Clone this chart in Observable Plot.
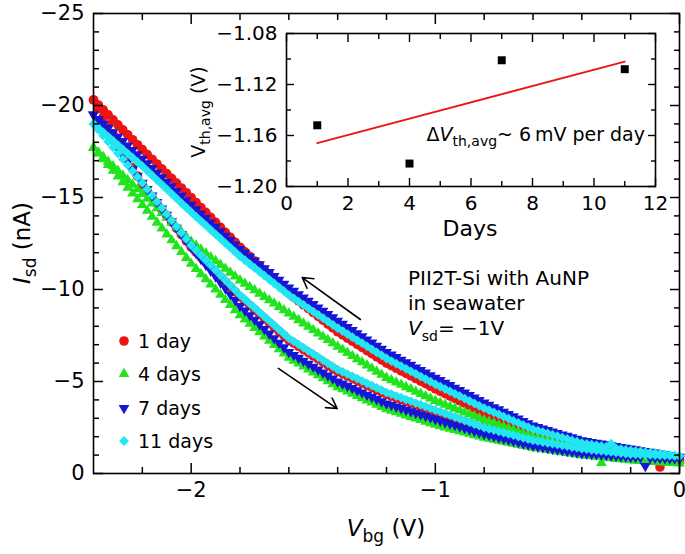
<!DOCTYPE html>
<html><head><meta charset="utf-8">
<script src="https://cdn.jsdelivr.net/npm/d3@7"></script>
<script src="https://cdn.jsdelivr.net/npm/@observablehq/plot@0.6"></script>
<style>
body{margin:0;background:#fff}
#wrap{position:relative;width:685px;height:554px}
#inset{position:absolute;left:180px;top:20px}
</style></head><body><div id="wrap"></div>
<script>
// ---- Data: gate voltage sweep (V) ----
const Vbg = [
-2.40,-2.38,-2.36,-2.34,-2.32,-2.30,-2.28,-2.26,-2.24,-2.22,
-2.20,-2.18,-2.16,-2.14,-2.12,-2.10,-2.08,-2.06,-2.04,-2.02,
-2.00,-1.98,-1.96,-1.94,-1.92,-1.90,-1.88,-1.86,-1.84,-1.82,
-1.80,-1.78,-1.76,-1.74,-1.72,-1.70,-1.68,-1.66,-1.64,-1.62,
-1.60,-1.58,-1.56,-1.54,-1.52,-1.50,-1.48,-1.46,-1.44,-1.42,
-1.40,-1.38,-1.36,-1.34,-1.32,-1.30,-1.28,-1.26,-1.24,-1.22,
-1.20,-1.18,-1.16,-1.14,-1.12,-1.10,-1.08,-1.06,-1.04,-1.02,
-1.00,-0.98,-0.96,-0.94,-0.92,-0.90,-0.88,-0.86,-0.84,-0.82,
-0.80,-0.78,-0.76,-0.74,-0.72,-0.70,-0.68,-0.66,-0.64,-0.62,
-0.60,-0.58,-0.56,-0.54,-0.52,-0.50,-0.48,-0.46,-0.44,-0.42,
-0.40,-0.38,-0.36,-0.34,-0.32,-0.30,-0.28,-0.26,-0.24,-0.22,
-0.20,-0.18,-0.16,-0.14,-0.12,-0.10,-0.08,-0.06,-0.04,-0.02,
0];

// Isd (nA): forward sweep (upper branch) and reverse sweep (lower branch)
const day1Fwd = [
-20.3,-20.03,-19.76,-19.49,-19.22,-18.95,-18.68,-18.41,-18.14,-17.87,
-17.6,-17.34,-17.08,-16.82,-16.56,-16.3,-16.04,-15.78,-15.52,-15.26,
-15.0,-14.73,-14.46,-14.19,-13.92,-13.65,-13.38,-13.11,-12.84,-12.57,
-12.3,-12.05,-11.8,-11.55,-11.3,-11.05,-10.8,-10.55,-10.3,-10.05,
-9.8,-9.59,-9.38,-9.17,-8.96,-8.75,-8.54,-8.33,-8.12,-7.91,
-7.7,-7.53,-7.36,-7.19,-7.02,-6.85,-6.68,-6.51,-6.34,-6.17,
-6.0,-5.86,-5.72,-5.58,-5.44,-5.3,-5.16,-5.02,-4.88,-4.74,
-4.6,-4.47,-4.34,-4.21,-4.08,-3.95,-3.82,-3.69,-3.56,-3.43,
-3.3,-3.19,-3.08,-2.97,-2.86,-2.75,-2.64,-2.53,-2.42,-2.31,
-2.2,-2.13,-2.06,-1.99,-1.92,-1.85,-1.78,-1.71,-1.64,-1.57,
-1.5,-1.46,-1.42,-1.38,-1.34,-1.3,-1.26,-1.22,-1.18,-1.14,
-1.1,-1.07,-1.03,-1.0,-0.96,-0.93,-0.89,-0.86,-0.82,-0.79,
-0.75];
const day1Rev = [
-20.3,-19.84,-19.38,-18.92,-18.46,-18.0,-17.54,-17.08,-16.62,-16.16,
-15.7,-15.36,-15.02,-14.68,-14.34,-14.0,-13.66,-13.32,-12.98,-12.64,
-12.3,-12.03,-11.76,-11.49,-11.22,-10.95,-10.68,-10.41,-10.14,-9.87,
-9.6,-9.37,-9.13,-8.9,-8.66,-8.43,-8.19,-7.96,-7.72,-7.49,
-7.25,-7.08,-6.91,-6.74,-6.57,-6.4,-6.23,-6.06,-5.89,-5.72,
-5.55,-5.43,-5.3,-5.18,-5.05,-4.93,-4.8,-4.68,-4.55,-4.43,
-4.3,-4.21,-4.11,-4.02,-3.92,-3.83,-3.73,-3.64,-3.54,-3.45,
-3.35,-3.26,-3.17,-3.08,-2.99,-2.9,-2.81,-2.72,-2.63,-2.54,
-2.45,-2.38,-2.31,-2.24,-2.17,-2.1,-2.03,-1.96,-1.89,-1.82,
-1.75,-1.71,-1.66,-1.62,-1.57,-1.53,-1.48,-1.44,-1.39,-1.35,
-1.3,-1.27,-1.23,-1.2,-1.16,-1.13,-1.09,-1.06,-1.02,-0.99,
-0.95,-0.92,-0.89,-0.86,-0.83,-0.8,-0.35,-0.74,-0.71,-0.68,
-0.65];
const day4Fwd = [
-17.7,-17.45,-17.2,-16.95,-16.7,-16.45,-16.2,-15.95,-15.7,-15.45,
-15.2,-14.94,-14.68,-14.42,-14.16,-13.9,-13.64,-13.38,-13.12,-12.86,
-12.6,-12.39,-12.18,-11.97,-11.76,-11.55,-11.34,-11.13,-10.92,-10.71,
-10.5,-10.32,-10.14,-9.96,-9.78,-9.6,-9.42,-9.24,-9.06,-8.88,
-8.7,-8.52,-8.34,-8.16,-7.98,-7.8,-7.62,-7.44,-7.26,-7.08,
-6.9,-6.73,-6.56,-6.39,-6.22,-6.05,-5.88,-5.71,-5.54,-5.37,
-5.2,-5.08,-4.95,-4.83,-4.7,-4.58,-4.45,-4.33,-4.2,-4.08,
-3.95,-3.85,-3.74,-3.64,-3.53,-3.43,-3.32,-3.22,-3.11,-3.01,
-2.9,-2.81,-2.72,-2.63,-2.54,-2.45,-2.36,-2.27,-2.18,-2.09,
-2.0,-1.94,-1.87,-1.81,-1.74,-1.68,-1.61,-1.55,-1.48,-1.42,
-1.35,-1.31,-1.27,-1.23,-1.19,-1.15,-1.11,-1.07,-1.03,-0.99,
-0.95,-0.93,-0.9,-0.88,-0.85,-0.83,-0.8,-0.78,-0.75,-0.73,
-0.7];
const day4Rev = [
-17.7,-17.39,-17.08,-16.77,-16.46,-16.15,-15.84,-15.53,-15.22,-14.91,
-14.6,-14.28,-13.96,-13.64,-13.32,-13.0,-12.68,-12.36,-12.04,-11.72,
-11.4,-11.12,-10.84,-10.56,-10.28,-10.0,-9.72,-9.44,-9.16,-8.88,
-8.6,-8.37,-8.14,-7.91,-7.68,-7.45,-7.22,-6.99,-6.76,-6.53,
-6.3,-6.14,-5.98,-5.82,-5.66,-5.5,-5.34,-5.18,-5.02,-4.86,
-4.7,-4.58,-4.46,-4.34,-4.22,-4.1,-3.98,-3.86,-3.74,-3.62,
-3.5,-3.42,-3.33,-3.25,-3.16,-3.08,-2.99,-2.91,-2.82,-2.74,
-2.65,-2.58,-2.51,-2.44,-2.37,-2.3,-2.23,-2.16,-2.09,-2.02,
-1.95,-1.9,-1.84,-1.79,-1.73,-1.68,-1.62,-1.57,-1.51,-1.46,
-1.4,-1.36,-1.32,-1.28,-1.24,-1.2,-1.16,-1.12,-1.08,-1.04,
-1.0,-0.97,-0.94,-0.92,-0.58,-0.86,-0.83,-0.8,-0.78,-0.75,
-0.72,-0.7,-0.69,-0.67,-0.65,-0.63,-0.62,-0.6,-0.58,-0.57,
-0.55];
const day7Fwd = [
-19.5,-19.26,-19.02,-18.78,-18.54,-18.3,-18.06,-17.82,-17.58,-17.34,
-17.1,-16.85,-16.6,-16.35,-16.1,-15.85,-15.6,-15.35,-15.1,-14.85,
-14.6,-14.36,-14.12,-13.88,-13.64,-13.4,-13.16,-12.92,-12.68,-12.44,
-12.2,-11.99,-11.78,-11.57,-11.36,-11.15,-10.94,-10.73,-10.52,-10.31,
-10.1,-9.92,-9.74,-9.56,-9.38,-9.2,-9.02,-8.84,-8.66,-8.48,
-8.3,-8.13,-7.96,-7.79,-7.62,-7.45,-7.28,-7.11,-6.94,-6.77,
-6.6,-6.46,-6.32,-6.18,-6.04,-5.9,-5.76,-5.62,-5.48,-5.34,
-5.2,-5.07,-4.93,-4.8,-4.66,-4.53,-4.39,-4.26,-4.12,-3.99,
-3.85,-3.73,-3.6,-3.48,-3.35,-3.23,-3.1,-2.98,-2.85,-2.73,
-2.6,-2.52,-2.44,-2.36,-2.28,-2.2,-2.12,-2.04,-1.96,-1.88,
-1.8,-1.76,-1.71,-1.67,-1.62,-1.58,-1.53,-1.49,-1.44,-1.4,
-1.35,-1.31,-1.26,-1.22,-1.17,-1.13,-1.08,-1.04,-0.99,-0.95,
-0.9];
const day7Rev = [
-19.5,-19.13,-18.76,-18.39,-18.02,-17.65,-17.28,-16.91,-16.54,-16.17,
-15.8,-15.45,-15.1,-14.75,-14.4,-14.05,-13.7,-13.35,-13.0,-12.65,
-12.3,-11.98,-11.66,-11.34,-11.02,-10.7,-10.38,-10.06,-9.74,-9.42,
-9.1,-8.85,-8.6,-8.35,-8.1,-7.85,-7.6,-7.35,-7.1,-6.85,
-6.6,-6.44,-6.28,-6.12,-5.96,-5.8,-5.64,-5.48,-5.32,-5.16,
-5.0,-4.88,-4.76,-4.64,-4.52,-4.4,-4.28,-4.16,-4.04,-3.92,
-3.8,-3.72,-3.63,-3.55,-3.46,-3.38,-3.29,-3.21,-3.12,-3.04,
-2.95,-2.87,-2.79,-2.71,-2.63,-2.55,-2.47,-2.39,-2.31,-2.23,
-2.15,-2.09,-2.02,-1.96,-1.89,-1.83,-1.76,-1.7,-1.63,-1.57,
-1.5,-1.46,-1.42,-1.38,-1.34,-1.3,-1.26,-1.22,-1.18,-1.14,
-1.1,-1.08,-1.06,-1.04,-1.02,-1.0,-0.98,-0.96,-0.94,-0.92,
-0.9,-0.89,-0.88,-0.4,-0.86,-0.85,-0.84,-0.83,-0.82,-0.81,
-0.8];
const day11Fwd = [
-19.0,-18.77,-18.54,-18.31,-18.08,-17.85,-17.62,-17.39,-17.16,-16.93,
-16.7,-16.45,-16.2,-15.95,-15.7,-15.45,-15.2,-14.95,-14.7,-14.45,
-14.2,-13.96,-13.72,-13.48,-13.24,-13.0,-12.76,-12.52,-12.28,-12.04,
-11.8,-11.59,-11.38,-11.17,-10.96,-10.75,-10.54,-10.33,-10.12,-9.91,
-9.7,-9.52,-9.34,-9.16,-8.98,-8.8,-8.62,-8.44,-8.26,-8.08,
-7.9,-7.74,-7.57,-7.41,-7.24,-7.08,-6.91,-6.75,-6.58,-6.42,
-6.25,-6.11,-5.97,-5.83,-5.69,-5.55,-5.41,-5.27,-5.13,-4.99,
-4.85,-4.72,-4.59,-4.46,-4.33,-4.2,-4.07,-3.94,-3.81,-3.68,
-3.55,-3.44,-3.32,-3.21,-3.09,-2.98,-2.86,-2.75,-2.63,-2.52,
-2.4,-2.33,-2.25,-2.18,-2.1,-2.03,-1.95,-1.88,-1.8,-1.73,
-1.65,-1.61,-1.57,-1.53,-1.49,-1.45,-1.62,-1.37,-1.33,-1.29,
-1.25,-1.22,-1.19,-1.16,-1.13,-1.1,-1.07,-1.04,-1.01,-0.98,
-0.95];
const day11Rev = [
-19.0,-18.68,-18.36,-18.04,-17.72,-17.4,-17.08,-16.76,-16.44,-16.12,
-15.8,-15.46,-15.12,-14.78,-14.44,-14.1,-13.76,-13.42,-13.08,-12.74,
-12.4,-12.13,-11.86,-11.59,-11.32,-11.05,-10.78,-10.51,-10.24,-9.97,
-9.7,-9.47,-9.23,-9.0,-8.76,-8.53,-8.29,-8.06,-7.82,-7.59,
-7.35,-7.18,-7.01,-6.84,-6.67,-6.5,-6.33,-6.16,-5.99,-5.82,
-5.65,-5.53,-5.4,-5.28,-5.15,-5.03,-4.9,-4.78,-4.65,-4.53,
-4.4,-4.31,-4.21,-4.12,-4.02,-3.93,-3.83,-3.74,-3.64,-3.55,
-3.45,-3.36,-3.26,-3.17,-3.07,-2.98,-2.88,-2.79,-2.69,-2.6,
-2.5,-2.43,-2.36,-2.29,-2.22,-2.15,-2.08,-2.01,-1.94,-1.87,
-1.8,-1.76,-1.71,-1.67,-1.62,-1.58,-1.53,-1.49,-1.44,-1.4,
-1.35,-1.32,-1.29,-1.26,-1.23,-1.2,-1.17,-1.14,-1.11,-1.08,
-1.05,-1.04,-1.03,-1.02,-1.01,-1.0,-0.99,-0.98,-0.97,-0.96,
-0.95];

const seriesNames = ["1 day", "4 days", "7 days", "11 days"];

// Inset: average threshold voltage vs days, with linear fit
const insetDays = [1, 4, 7, 11];
const insetVth = [-1.152, -1.182, -1.101, -1.108];
const fitDays = [1, 11];
const fitVth = [-1.166, -1.102];

// Tick values
const xMajor = [-2, -1, 0];
const xMinor = [-2.2, -1.8, -1.6, -1.4, -1.2, -0.8, -0.6, -0.4, -0.2];
const yMajor = [0, -5, -10, -15, -20, -25];
const yMinor = [-1,-2,-3,-4,-6,-7,-8,-9,-11,-12,-13,-14,-16,-17,-18,-19,-21,-22,-23,-24];
const insXMajor = [0, 2, 4, 6, 8, 10, 12];
const insXMinor = [1, 3, 5, 7, 9, 11];
const insYMajor = [-1.08, -1.12, -1.16, -1.20];
const insYMinor = [-1.10, -1.14, -1.18];

// Sweep-direction arrows (data units)
const arrowX1 = [-1.307, -1.643];
const arrowY1 = [-8.37, -5.71];
const arrowX2 = [-1.545, -1.402];
const arrowY2 = [-10.65, -3.53];

// ---- Styles ----
const FONT = "DejaVu Sans, Liberation Sans, Arial, sans-serif";
const colors = ["#ee1414", "#22e41e", "#1616d6", "#22e6f2"];
const triDown = {draw(ctx, size) {
  const s3 = Math.sqrt(3), y = -Math.sqrt(size / (s3 * 3));
  ctx.moveTo(0, -y * 2); ctx.lineTo(-s3 * y, y); ctx.lineTo(s3 * y, y); ctx.closePath();
}};
const symbols = ["circle", "triangle", triDown, "diamond2"];
const radii = [4.8, 4.0, 4.0, 4.4];

[day1Fwd, day1Rev, day4Fwd, day4Rev, day7Fwd, day7Rev, day11Fwd, day11Rev].forEach((a, i) => {
  if (a.length !== Vbg.length) throw new Error("length mismatch in series " + i + ": " + a.length);
});

const branches = [[day1Fwd, day1Rev], [day4Fwd, day4Rev], [day7Fwd, day7Rev], [day11Fwd, day11Rev]];
const seriesRows = branches.map(([f, r]) =>
  [...Vbg.map((v, i) => ({V: v, I: f[i]})), ...Vbg.map((v, i) => ({V: v, I: r[i]}))]);
const arrows = arrowX1.map((d, i) => ({x1: d, y1: arrowY1[i], x2: arrowX2[i], y2: arrowY2[i]}));

const intFmt = d3.format("d");
const MAJ = -10, MIN = -6;
const main = Plot.plot({
  width: 685, height: 554,
  marginLeft: 93, marginRight: 6, marginTop: 13, marginBottom: 81,
  style: {fontFamily: FONT, fontSize: "21px", color: "#000", background: "transparent", overflow: "visible"},
  x: {domain: [-2.4, 0], label: null},
  y: {domain: [0, -25], label: null},
  marks: [
    ...seriesRows.map((rows, k) => Plot.dot(rows, {x: "V", y: "I", r: radii[k], fill: colors[k], symbol: symbols[k]})),
    Plot.arrow(arrows, {x1: "x1", y1: "y1", x2: "x2", y2: "y2", stroke: "#000", strokeWidth: 1.6, headLength: 11}),
    Plot.frame({stroke: "#000", strokeWidth: 1.6}),
    Plot.axisX(xMajor, {anchor: "bottom", tickSize: MAJ, strokeWidth: 1.5, label: null, tickFormat: intFmt}),
    Plot.axisX(xMinor, {anchor: "bottom", tickSize: MIN, strokeWidth: 1.5, fill: "none", label: null}),
    Plot.axisX(xMajor, {anchor: "top", tickSize: MAJ, strokeWidth: 1.5, fill: "none", label: null}),
    Plot.axisX(xMinor, {anchor: "top", tickSize: MIN, strokeWidth: 1.5, fill: "none", label: null}),
    Plot.axisY(yMajor, {anchor: "left", tickSize: MAJ, strokeWidth: 1.5, label: null, tickFormat: intFmt}),
    Plot.axisY(yMinor, {anchor: "left", tickSize: MIN, strokeWidth: 1.5, fill: "none", label: null}),
    Plot.axisY(yMajor, {anchor: "right", tickSize: MAJ, strokeWidth: 1.5, fill: "none", label: null}),
    Plot.axisY(yMinor, {anchor: "right", tickSize: MIN, strokeWidth: 1.5, fill: "none", label: null})
  ]
});
document.getElementById("wrap").appendChild(main);

const s = d3.select(main);
function rich(sel, parts, size, anchor) {
  const t = sel.append("text").attr("font-family", FONT).attr("font-size", size)
    .attr("fill", "#000").attr("text-anchor", anchor || "start");
  let shifted = 0;
  for (const p of parts) {
    const ts = t.append("tspan").text(p.t);
    if (p.i) ts.attr("font-style", "italic");
    const want = p.sub ? Math.round(size * 0.28) : 0;
    if (want !== shifted) { ts.attr("dy", want - shifted); shifted = want; }
    if (p.sub) ts.attr("font-size", Math.round(size * 0.72));
  }
  return t;
}
// axis titles
rich(s, [{t: "I", i: 1}, {t: "sd", sub: 1}, {t: " (nA)"}], 23, "middle")
  .attr("transform", "translate(30,243) rotate(-90)");
rich(s, [{t: "V", i: 1}, {t: "bg", sub: 1}, {t: " (V)"}], 23, "middle")
  .attr("x", 386).attr("y", 536);
// annotation
rich(s, [{t: "PII2T-Si with AuNP"}], 20).attr("x", 408).attr("y", 285);
rich(s, [{t: "in seawater"}], 20).attr("x", 408).attr("y", 310);
rich(s, [{t: "V", i: 1}, {t: "sd", sub: 1}, {t: "= \u22121V"}], 20).attr("x", 408).attr("y", 335);
// legend
const legY = [341, 374, 408, 441];
seriesNames.forEach((name, k) => {
  const sym = typeof symbols[k] === "string"
    ? {circle: d3.symbolCircle, triangle: d3.symbolTriangle, diamond2: d3.symbolDiamond2}[symbols[k]]
    : symbols[k];
  s.append("path").attr("transform", `translate(124,${legY[k]})`)
    .attr("d", d3.symbol(sym, Math.PI * radii[k] * radii[k])()).attr("fill", colors[k]);
  rich(s, [{t: name}], 19).attr("x", 138).attr("y", legY[k] + 7);
});

// ---- Inset ----
const ins = Plot.plot({
  width: 490, height: 225,
  marginLeft: 106, marginRight: 15, marginTop: 13, marginBottom: 59,
  style: {fontFamily: FONT, fontSize: "20px", color: "#000", background: "transparent", overflow: "visible"},
  x: {domain: [0, 12], label: null},
  y: {domain: [-1.20, -1.08], label: null},
  marks: [
    Plot.line(fitDays.map((d, i) => ({d, v: fitVth[i]})), {x: "d", y: "v", stroke: "#ee1414", strokeWidth: 1.8}),
    Plot.dot(insetDays.map((d, i) => ({d, v: insetVth[i]})), {x: "d", y: "v", symbol: "square", r: 4.5, fill: "#000"}),
    Plot.frame({stroke: "#000", strokeWidth: 1.6}),
    Plot.axisX(insXMajor, {anchor: "bottom", tickSize: -8, strokeWidth: 1.4, label: null, tickFormat: intFmt}),
    Plot.axisX(insXMinor, {anchor: "bottom", tickSize: -5, strokeWidth: 1.4, fill: "none", label: null}),
    Plot.axisX(insXMajor, {anchor: "top", tickSize: -8, strokeWidth: 1.4, fill: "none", label: null}),
    Plot.axisX(insXMinor, {anchor: "top", tickSize: -5, strokeWidth: 1.4, fill: "none", label: null}),
    Plot.axisY(insYMajor, {anchor: "left", tickSize: -8, strokeWidth: 1.4, label: null, tickFormat: d3.format(".2f")}),
    Plot.axisY(insYMinor, {anchor: "left", tickSize: -5, strokeWidth: 1.4, fill: "none", label: null}),
    Plot.axisY(insYMajor, {anchor: "right", tickSize: -8, strokeWidth: 1.4, fill: "none", label: null}),
    Plot.axisY(insYMinor, {anchor: "right", tickSize: -5, strokeWidth: 1.4, fill: "none", label: null})
  ]
});
ins.id = "inset";
document.getElementById("wrap").appendChild(ins);
const si = d3.select(ins);
rich(si, [{t: "V"}, {t: "th,avg", sub: 1}, {t: " (V)"}], 19, "middle")
  .attr("transform", "translate(25,92) rotate(-90)");
rich(si, [{t: "Days"}], 22, "middle").attr("x", 290).attr("y", 216);
rich(si, [{t: "\u0394"}, {t: "V", i: 1}, {t: "th,avg", sub: 1}, {t: "~ 6\u2009mV per day"}], 19, "end")
  .attr("x", 465).attr("y", 121);
</script></body></html>
